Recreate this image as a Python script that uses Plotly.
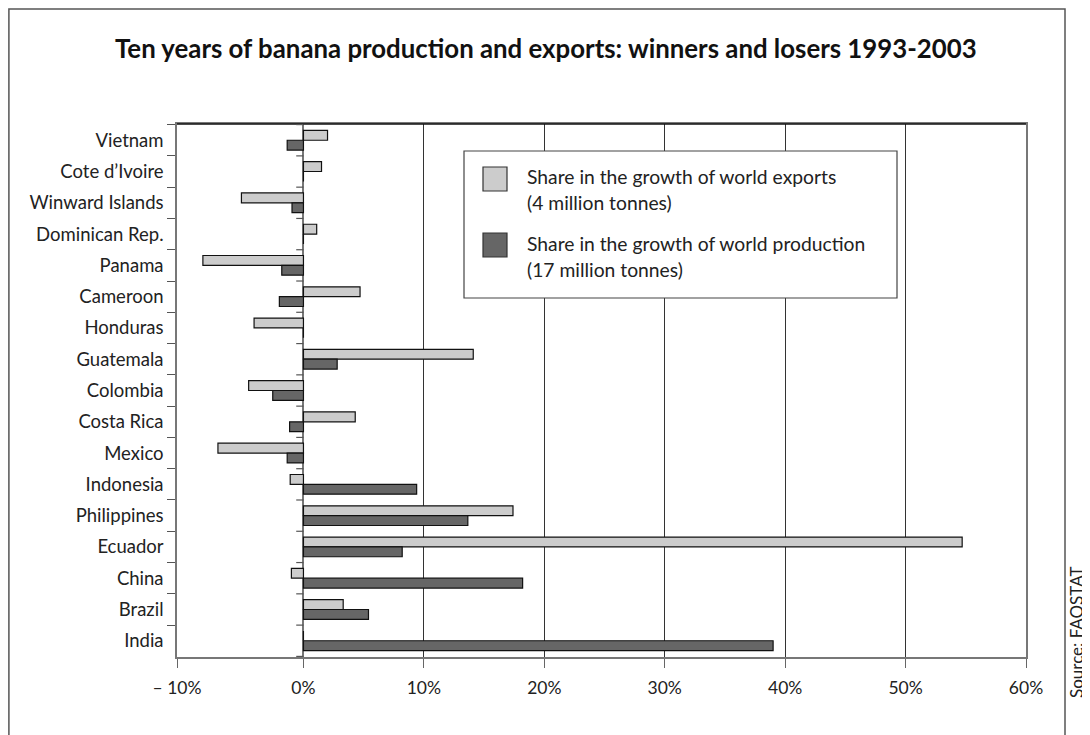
import plotly.graph_objects as go

# ---- data (top to bottom as in the chart) ----
countries = ["Vietnam", "Cote d\u2019Ivoire", "Winward Islands", "Dominican Rep.", "Panama",
             "Cameroon", "Honduras", "Guatemala", "Colombia", "Costa Rica", "Mexico",
             "Indonesia", "Philippines", "Ecuador", "China", "Brazil", "India"]
exports_share = [2.0, 1.5, -5.15, 1.1, -8.35, 4.7, -4.1, 14.1, -4.55, 4.3, -7.1,
                 -1.1, 17.4, 54.7, -1.0, 3.3, 0.0]
production_share = [-1.35, 0.0, -0.95, 0.0, -1.8, -2.0, 0.0, 2.8, -2.55, -1.15, -1.35,
                    9.4, 13.65, 8.2, 18.2, 5.4, 39.0]
x_tickvals = [-10.5, 0, 10, 20, 30, 40, 50, 60]
x_ticktext = ["\u2013 10%", "0%", "10%", "20%", "30%", "40%", "50%", "60%"]
legend_exports = ["Share in the growth of world exports", "(4 million tonnes)"]
legend_production = ["Share in the growth of world production", "(17 million tonnes)"]
title_text = "Ten years of banana production and exports: winners and losers 1993-2003"
source_text = "Source: FAOSTAT"

FONT = "Lato"
EXP_COLOR = "#cccccc"
PROD_COLOR = "#666666"

fig = go.Figure()
fig.add_trace(go.Bar(y=countries, x=exports_share, orientation="h", name="exports",
                     marker=dict(color=EXP_COLOR, line=dict(color="#111", width=1.2)),
                     showlegend=False))
fig.add_trace(go.Bar(y=countries, x=production_share, orientation="h", name="production",
                     marker=dict(color=PROD_COLOR, line=dict(color="#111", width=1.2)),
                     showlegend=False))

# page body adds an 8px offset; figure is sized to compensate
OFF = 8
W, H = 1090 - OFF, 735 - OFF
L, R, T, B = 177, 1026, 124, 657   # target plot-area edges in window pixels


def px(x):
    return (x - L) / (R - L)


def py(y):
    return (B - y) / (B - T)


shapes = []
# outer frame
shapes.append(dict(type="rect", xref="paper", yref="paper", x0=px(8.9), x1=px(1065),
                   y0=py(745), y1=py(8.9), line=dict(color="#555", width=1.5)))
# top border of plot in black
shapes.append(dict(type="line", xref="paper", yref="paper", x0=0, x1=1, y0=1, y1=1,
                   line=dict(color="#111", width=1.5)))
# small ticks on the zero line at category boundaries
for i in range(len(countries) + 1):
    shapes.append(dict(type="line", xref="x", yref="y", x0=-0.6, x1=0,
                       y0=i - 0.5, y1=i - 0.5, line=dict(color="#555", width=1.2)))

# legend box and swatches
shapes.append(dict(type="rect", xref="paper", yref="paper", x0=px(464), x1=px(897),
                   y0=py(298), y1=py(151), line=dict(color="#444", width=1.2),
                   fillcolor="white"))
shapes.append(dict(type="rect", xref="paper", yref="paper", x0=px(483), x1=px(507),
                   y0=py(191), y1=py(167), line=dict(color="#333", width=1.2),
                   fillcolor=EXP_COLOR))
shapes.append(dict(type="rect", xref="paper", yref="paper", x0=px(483), x1=px(507),
                   y0=py(257), y1=py(233), line=dict(color="#333", width=1.2),
                   fillcolor=PROD_COLOR))

annotations = []
annotations.append(dict(text="<b>" + title_text + "</b>", xref="paper", yref="paper",
                        x=px(546), y=py(48), showarrow=False, xanchor="center",
                        yanchor="middle", font=dict(family=FONT, size=25.8, color="#111")))
for lines, ys in ((legend_exports, (176, 202)), (legend_production, (243, 269))):
    for t, yy in zip(lines, ys):
        annotations.append(dict(text=t, xref="paper", yref="paper", x=px(525), y=py(yy),
                                showarrow=False, xanchor="left", yanchor="middle",
                                font=dict(family=FONT, size=19.3, color="#222")))
annotations.append(dict(text=source_text, xref="paper", yref="paper", x=px(1076),
                        y=py(632), showarrow=False, textangle=-90, xanchor="center",
                        yanchor="middle", font=dict(family=FONT, size=17, color="#222")))

fig.update_layout(
    width=W, height=H,
    margin=dict(l=L - OFF, r=W - (R - OFF), t=T - OFF, b=H - (B - OFF)),
    paper_bgcolor="white", plot_bgcolor="white",
    barmode="group", bargap=0.37, bargroupgap=0.0,
    font=dict(family=FONT, size=16, color="#222"),
    shapes=shapes, annotations=annotations,
    xaxis=dict(range=[-10.5, 60], tickvals=x_tickvals, ticktext=x_ticktext,
               showgrid=True, gridcolor="#333", gridwidth=1,
               zeroline=True, zerolinecolor="#777", zerolinewidth=1.5,
               showline=True, linecolor="#777", linewidth=1.5, mirror=True,
               ticks="outside", ticklen=9, tickcolor="#666", ticklabelstandoff=5,
               tickfont=dict(family=FONT, size=17.5, color="#222"), fixedrange=True),
    yaxis=dict(autorange="reversed", type="category", tickson="boundaries",
               ticks="outside", ticklen=8, tickcolor="#555", ticklabelstandoff=8,
               showline=True, linecolor="#777", linewidth=1.5, mirror=True,
               showgrid=False, tickfont=dict(family=FONT, size=18.5, color="#222")),
)

fig.write_html("out.html")
